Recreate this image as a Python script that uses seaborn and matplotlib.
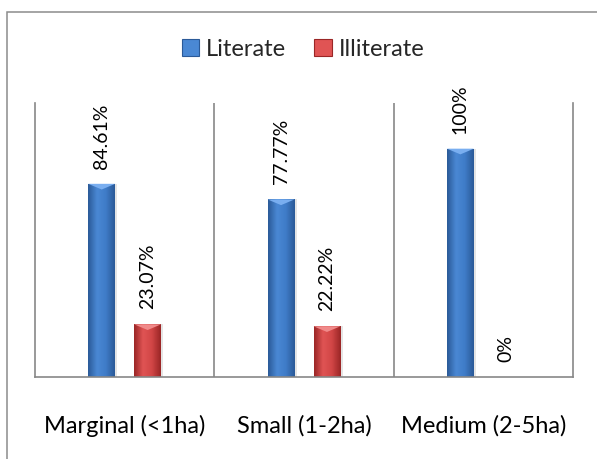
import numpy as np
import pandas as pd
import matplotlib
matplotlib.use("Agg")
import matplotlib.pyplot as plt
import seaborn as sns
from matplotlib.patches import Rectangle, Polygon
from matplotlib.colors import LinearSegmentedColormap

# Farm-size categories and the share of literate / illiterate farmers (%)
categories = ["Marginal (<1ha)", "Small (1-2ha)", "Medium (2-5ha)"]
literate = [84.61, 77.77, 100]
illiterate = [23.07, 22.22, 0]
series = ["Literate", "Illiterate"]

df = pd.DataFrame({
    "Category": categories * 2,
    "Group": [series[0]] * len(categories) + [series[1]] * len(categories),
    "Value": literate + illiterate,
})

sns.set_theme(style="white")
plt.rcParams["font.family"] = ["Lato", "DejaVu Sans"]

W, H = 597, 460
fig = plt.figure(figsize=(W / 100, H / 100), dpi=100)
ax = fig.add_axes([35 / W, 1 - 378 / H, 538 / W, 274 / H])

base_colors = {"Literate": "#3a72bd", "Illiterate": "#c0393a"}
sns.barplot(data=df, x="Category", y="Value", hue="Group", hue_order=series,
            order=categories, palette=base_colors, width=0.512, gap=0.414,
            saturation=1, ax=ax, legend=False, edgecolor="none")

ax.set_xlim(-0.5, 2.5)
ax.set_ylim(0, 120)
ax.set_xlabel("")
ax.set_ylabel("")
ax.set_yticks([])
ax.tick_params(axis="x", length=0, pad=26.5, labelsize=17, colors="black")

grey = "#878787"
for s in ax.spines.values():
    s.set_color(grey)
    s.set_linewidth(1.2)
ax.spines["top"].set_visible(False)
# category separators
for xb in [0.5, 1.5]:
    ax.axvline(xb, color=grey, lw=1.2, zorder=0)

# shaded cylinder-like fill for each bar
shades = {
    "Literate": ["#2b5a98", "#4a88d4", "#3f7cc8", "#2b5a98"],
    "Illiterate": ["#9a2626", "#e05454", "#d14646", "#9a2626"],
}
bevel = {"Literate": "#79aef0", "Illiterate": "#f08a8a"}
grad = np.linspace(0, 1, 64).reshape(1, -1)
bars = list(ax.patches)
n = len(categories)
for i, patch in enumerate(bars):
    name = series[i // n]
    x0, y0 = patch.get_x(), patch.get_y()
    w, h = patch.get_width(), patch.get_height()
    if h <= 0:
        continue
    # soft drop shadow
    sh = Rectangle((x0 + w * 0.08, y0), w, h, facecolor="black", alpha=0.10,
                   edgecolor="none", zorder=1.5)
    ax.add_patch(sh)
    cmap = LinearSegmentedColormap.from_list(name, shades[name])
    im = ax.imshow(grad, cmap=cmap, aspect="auto", extent=[x0, x0 + w, y0, y0 + h],
                   zorder=2.5, interpolation="bicubic")
    im.set_clip_path(patch)
    # light bevel at the bar top
    dy = 2.5
    tri = Polygon([[x0, y0 + h], [x0 + w, y0 + h], [x0 + w * 0.5, y0 + h - dy]],
                  closed=True, facecolor=bevel[name], edgecolor="none", zorder=2.6)
    ax.add_patch(tri)

# value labels
for i, patch in enumerate(bars):
    v = df["Value"].iloc[i]
    ax.annotate(f"{v:g}%", (patch.get_x() + patch.get_width() / 2, patch.get_height()),
                xytext=(0, 11.5), textcoords="offset points", rotation=90,
                ha="center", va="bottom", fontsize=14, color="black")

# legend
handles = [Rectangle((0, 0), 1, 1, facecolor=shades[s][1], edgecolor=shades[s][0], lw=0.8)
           for s in series]
fig.legend(handles, series, loc="center", bbox_to_anchor=(303 / W, 1 - 50 / H),
           ncol=2, frameon=False, fontsize=17, handlelength=0.73, handleheight=0.73,
           handletextpad=0.3, columnspacing=1.2)

# chart frame
fig.add_artist(Rectangle((7 / W, -0.2), 1.2, 1.2 - 13 / H, transform=fig.transFigure,
                         fill=False, edgecolor="#8c8c8c", lw=1.1))

fig.savefig("out.png", dpi=100)
